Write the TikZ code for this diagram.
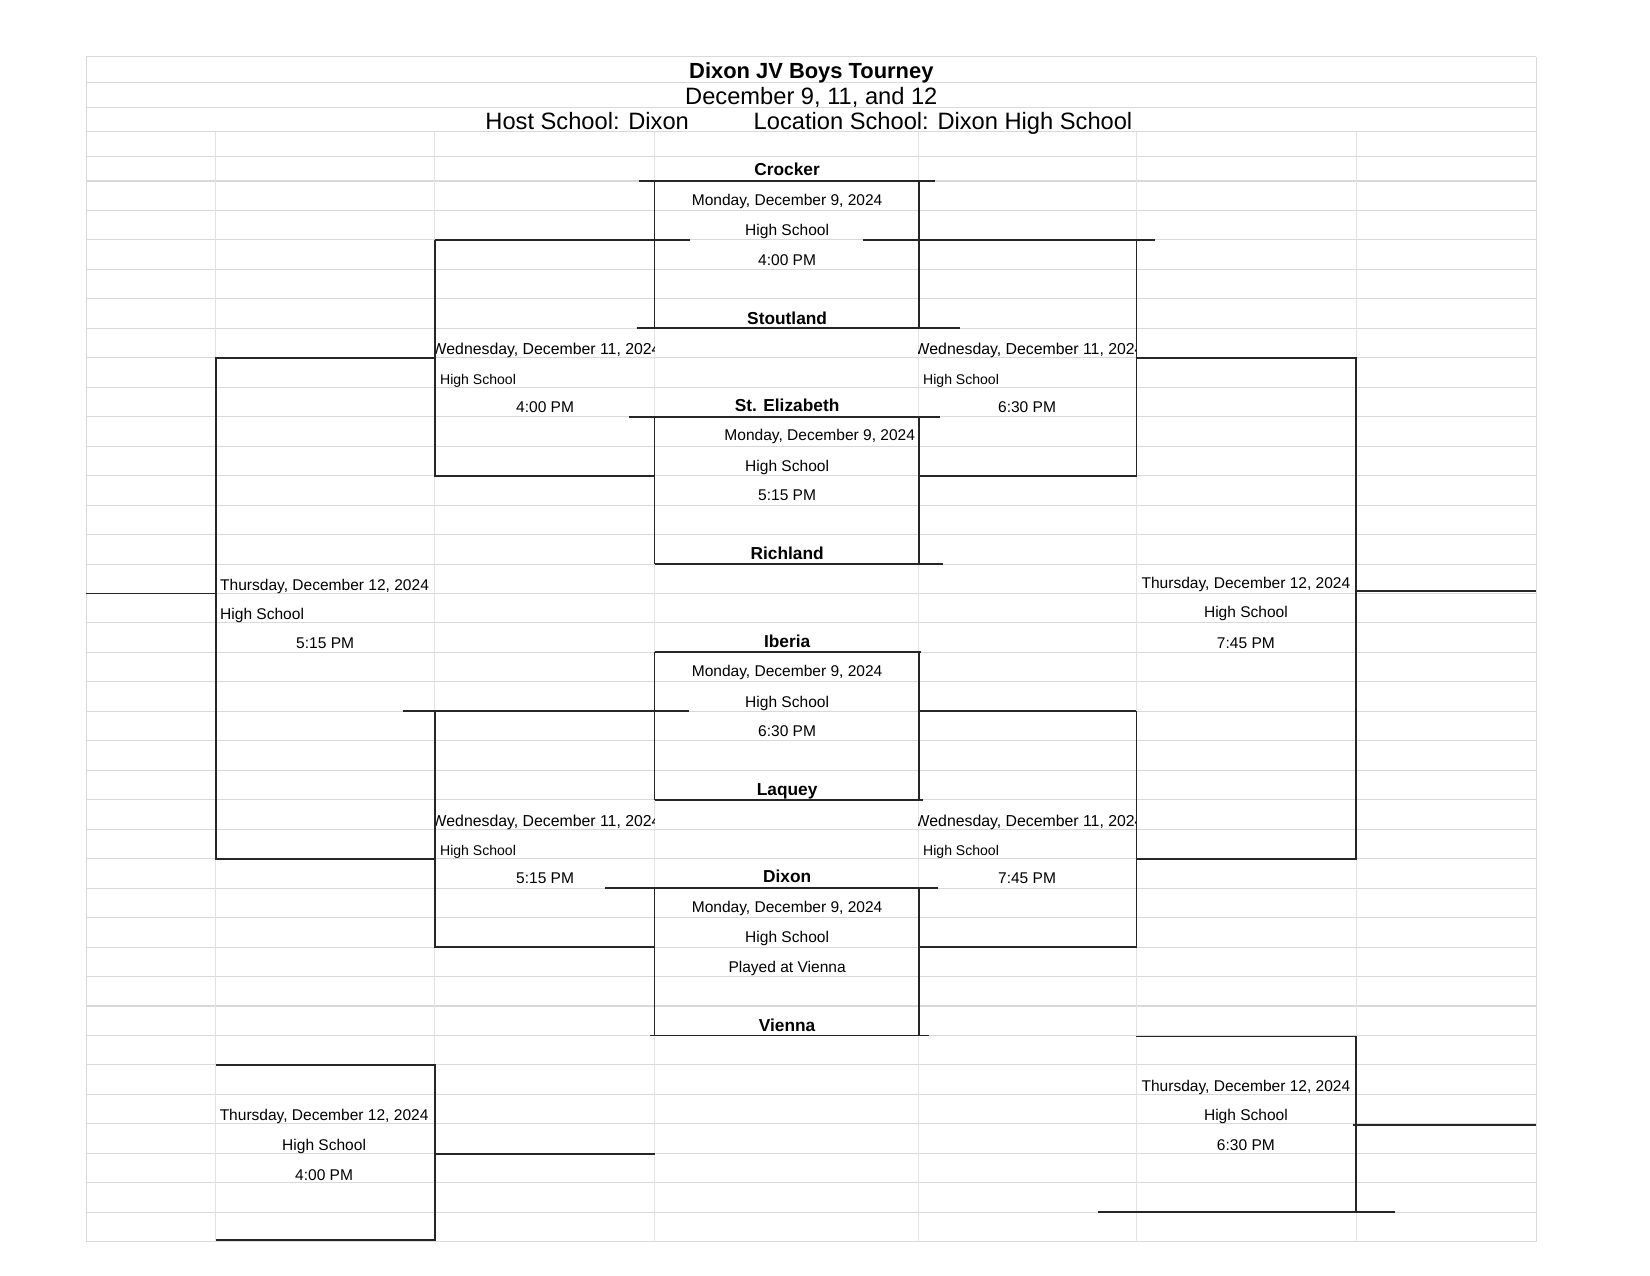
\documentclass[tikz,border=0pt]{standalone}
\usepackage{fontspec}
\setmainfont{Liberation Sans}

\begin{document}
\begin{tikzpicture}[x=0.025cm,y=-0.025cm,
  gridline/.style={black!15,line width=0.7pt},
  colline/.style={black!11,line width=0.6pt},
  bracket/.style={black!85,line width=1.3pt},
  team/.style={anchor=base,inner sep=0pt,font=\fontsize{11.7}{14}\selectfont\bfseries},
  info/.style={anchor=base,inner sep=0pt,font=\fontsize{10.5}{12}\selectfont},
  infoleft/.style={info,anchor=base west},
  small/.style={anchor=base west,inner sep=0pt,font=\fontsize{9.5}{11}\selectfont},
  head/.style={inner sep=0pt,font=\fontsize{16}{19}\selectfont}]
  \useasboundingbox (0,0) rectangle (1568,1212);
  % spreadsheet grid
  \foreach \y in {54,78,102,125,149}
    \draw[gridline] (82,\y) -- (1460,\y);
  \foreach \k in {0,...,36}
    \draw[gridline] (82,{172+28*\k}) -- (1460,{172+28*\k});
  \foreach \x in {205,413,622,873,1080,1289}
    \draw[colline] (\x,125) -- (\x,1180);
  \draw[gridline] (82,54) -- (82,1180);
  \draw[gridline] (1460,54) -- (1460,1180);

  % header
  \node[head,anchor=base,font=\fontsize{14.8}{17}\selectfont\bfseries] (title) at (771,75) {Dixon JV Boys Tourney};
  \node[head,anchor=base] (days) at (771,99) {December 9, 11, and 12};
  \node[head,anchor=base west] (host) at (461,123) {Host School: Dixon};
  \node[head,anchor=base west] (location) at (716,123) {Location School: Dixon High School};

  % first round, monday
  \foreach \t/\b/\dx/\third/\tl/\tr/\bl/\br [count=\i] in {
      Crocker/Stoutland/748/4:00 PM/607/889/605/912,
      St. Elizabeth/Richland/779/5:15 PM/598/893/622/896,
      Iberia/Laquey/748/6:30 PM/622/875/622/877,
      Dixon/Vienna/748/Played at Vienna/575/891/618/883}{
    \pgfmathsetmacro\oy{224*(\i-1)}
    \node[team] (top\i) at (748,{167+\oy}) {\t};
    \node[info] (mon\i) at (\dx,{195+\oy}) {Monday, December 9, 2024};
    \node[info] (site\i) at (748,{224+\oy}) {High School};
    \node[info] (time\i) at (748,{252+\oy}) {\third};
    \node[team] (bot\i) at (748,{308+\oy}) {\b};
    \draw[bracket] (\tl,{172+\oy}) -- (\tr,{172+\oy});
    \draw[bracket] (\bl,{312+\oy}) -- (\br,{312+\oy});
    \draw[bracket] (622,{172+\oy}) -- (622,{312+\oy});
    \draw[bracket] (873,{172+\oy}) -- (873,{312+\oy});
  }

  % second round, wednesday
  \foreach \xa/\xb/\xd/\xs/\xt/\oy/\tm [count=\i] in {
      413/622/410/418/518/0/4:00 PM,
      873/1080/869/877/976/0/6:30 PM,
      413/622/410/418/518/448/5:15 PM,
      873/1080/869/877/976/448/7:45 PM}{
    \begin{scope}
      \clip (\xa,{312+\oy}) rectangle (\xb,{341+\oy});
      \node[infoleft,font=\fontsize{10.7}{12}\selectfont] (wed\i) at (\xd,{337+\oy}) {Wednesday, December 11, 2024};
    \end{scope}
    \node[small] (wsite\i) at (\xs,{365+\oy}) {High School};
    \node[info] (wtime\i) at (\xt,{392+\oy}) {\tm};
  }
  \draw[bracket] (413,228) -- (656,228);
  \draw[bracket] (820,228) -- (1098,228);
  \draw[bracket] (413,228) -- (413,452) -- (622,452);
  \draw[bracket] (1080,228) -- (1080,452) -- (873,452);
  \draw[bracket] (383,676) -- (655,676);
  \draw[bracket] (873,676) -- (1080,676);
  \draw[bracket] (413,676) -- (413,900) -- (622,900);
  \draw[bracket] (1080,676) -- (1080,900) -- (873,900);

  % third round, thursday
  \node[infoleft] (thuL) at (209,561) {Thursday, December 12, 2024};
  \node[infoleft] (thuLsite) at (209,589) {High School};
  \node[info] (thuLtime) at (309,616) {5:15 PM};
  \draw[bracket] (413,340) -- (205,340) -- (205,816) -- (413,816);
  \draw[bracket] (82,564) -- (205,564);

  \node[info] (thuR) at (1184,559) {Thursday, December 12, 2024};
  \node[info] (thuRsite) at (1184,587) {High School};
  \node[info] (thuRtime) at (1184,616) {7:45 PM};
  \draw[bracket] (1080,340) -- (1289,340) -- (1289,816) -- (1080,816);
  \draw[bracket] (1289,562) -- (1460,562);

  \node[info] (conL) at (308,1065) {Thursday, December 12, 2024};
  \node[info] (conLsite) at (308,1093) {High School};
  \node[info] (conLtime) at (308,1122) {4:00 PM};
  \draw[bracket] (205,1012) -- (413,1012) -- (413,1178) -- (205,1178);
  \draw[bracket] (413,1097) -- (622,1097);

  \node[info] (conR) at (1184,1037) {Thursday, December 12, 2024};
  \node[info] (conRsite) at (1184,1065) {High School};
  \node[info] (conRtime) at (1184,1093) {6:30 PM};
  \draw[bracket] (1080,985) -- (1289,985) -- (1289,1152);
  \draw[bracket] (1043,1152) -- (1326,1152);
  \draw[bracket] (1286,1069) -- (1460,1069);
\end{tikzpicture}
\end{document}
